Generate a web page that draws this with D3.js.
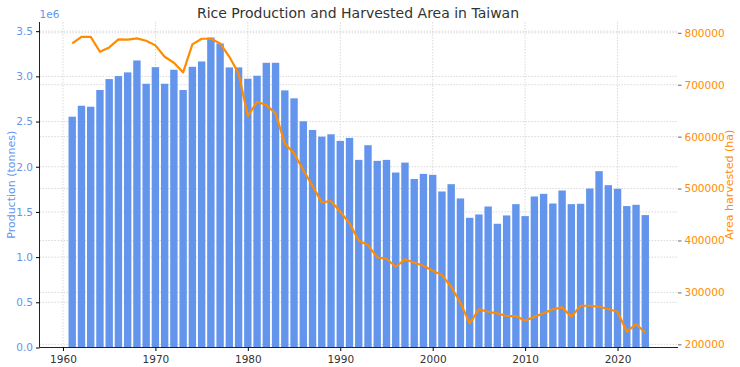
<!DOCTYPE html>
<html><head><meta charset="utf-8">
<script src="https://cdn.jsdelivr.net/npm/d3@7"></script>
<style>body{margin:0;background:#fff;} text{font-family:"DejaVu Sans",sans-serif;}</style>
</head><body><svg id="c" width="740" height="367"></svg>
<script>
const years = d3.range(1961, 2024);
const production = [2554000,2675000,2664000,2849000,2970000,3003000,3044000,3176000,2918000,3102000,
2918000,3073000,2849000,3106000,3165000,3430000,3364000,3099000,3099000,2974000,
3007000,3150000,3150000,2845000,2757000,2503000,2407000,2333000,2359000,2286000,
2319000,2076000,2238000,2065000,2076000,1936000,2046000,1864000,1921000,1911000,
1726000,1807000,1649000,1435000,1472000,1560000,1369000,1461000,1586000,1454000,
1671000,1700000,1593000,1737000,1586000,1590000,1759000,1951000,1796000,1756000,
1565000,1579000,1465000];
const area = [779600,792300,792000,763500,771900,787300,786700,789200,784700,775800,
753800,742300,723800,777700,788500,788500,779600,753800,721900,639600,
667200,660800,644800,587000,567700,535600,504800,473400,476000,455400,
433000,399500,391200,367500,364800,349400,363700,357100,351400,341700,
333400,311000,280100,240400,267400,262800,259700,254500,254500,245500,
253200,259700,267400,271200,253200,274300,274300,272400,268000,262800,
224300,239100,222400];
const xTicks = [1960,1970,1980,1990,2000,2010,2020];
const yLeftTicks = [0,500000,1000000,1500000,2000000,2500000,3000000,3500000];
const yRightTicks = [200000,300000,400000,500000,600000,700000,800000];

const svg = d3.select("#c");
const L=39.5, R=678, T=22, B=347.5;
const blue="#6495ED", orange="#FF8C00";
const x = d3.scaleLinear().domain([1957.46, 2026.54]).range([L,R]);
const yL = d3.scaleLinear().domain([0, 3601500]).range([B,T]);
const yR = d3.scaleLinear().domain([193900, 820800]).range([B,T]);

const grid = svg.append("g").attr("stroke","#cfcfcf").attr("stroke-width",0.8).attr("stroke-dasharray","1.5,1.5");
xTicks.forEach(t=>grid.append("line").attr("x1",x(t)).attr("x2",x(t)).attr("y1",T).attr("y2",B));
yLeftTicks.forEach(t=>grid.append("line").attr("x1",L).attr("x2",R).attr("y1",yL(t)).attr("y2",yL(t)));
yRightTicks.forEach(t=>grid.append("line").attr("x1",L).attr("x2",R).attr("y1",yR(t)).attr("y2",yR(t)));

const bw = x(1.4)-x(0.6);
svg.append("g").selectAll("rect").data(years).join("rect")
  .attr("x",(d)=>x(d)-bw/2).attr("width",bw)
  .attr("y",(d,i)=>yL(production[i])).attr("height",(d,i)=>B-yL(production[i]))
  .attr("fill",blue);

const line = d3.line().x((d,i)=>x(years[i])).y(d=>yR(d));
svg.append("path").datum(area).attr("d",line).attr("fill","none").attr("stroke",orange).attr("stroke-width",2.2).attr("stroke-linejoin","round");

// x axis
const ax = d3.axisBottom(x).tickValues(xTicks).tickFormat(d3.format("d")).tickSize(3.5);
const gx = svg.append("g").attr("transform",`translate(0,${B})`).call(ax);
gx.select(".domain").attr("d",`M${L},0H${R}`).attr("stroke","#222");
gx.selectAll("text").attr("font-size",10.5).attr("fill","#333").attr("dy","0.9em");

const ayl = d3.axisLeft(yL).tickValues(yLeftTicks).tickFormat(d=>(d/1e6).toFixed(1)).tickSize(3.5);
const gyl = svg.append("g").attr("transform",`translate(${L},0)`).call(ayl);
gyl.select(".domain").attr("d",`M0,${T}V${B}`).attr("stroke","#222");
gyl.selectAll("text").attr("font-size",10.5).attr("fill",blue);

const ayr = d3.axisRight(yR).tickValues(yRightTicks).tickFormat(d3.format("d")).tickSize(3.5);
const gyr = svg.append("g").attr("transform",`translate(${R},0)`).call(ayr);
gyr.select(".domain").remove();
gyr.selectAll("line").attr("stroke","#666");
gyr.selectAll("text").attr("font-size",10.5).attr("fill",orange);

svg.append("text").attr("x",L).attr("y",18).attr("font-size",10.5).attr("fill",blue).text("1e6");
svg.append("text").attr("x",358).attr("y",18).attr("text-anchor","middle").attr("font-size",14).attr("fill","#333").text("Rice Production and Harvested Area in Taiwan");
svg.append("text").attr("transform",`translate(15,${(T+B)/2}) rotate(-90)`).attr("text-anchor","middle").attr("font-size",11).attr("fill",blue).text("Production (tonnes)");
svg.append("text").attr("transform",`translate(733,${(T+B)/2}) rotate(-90)`).attr("text-anchor","middle").attr("font-size",11).attr("fill",orange).text("Area harvested (ha)");
</script></body></html>
